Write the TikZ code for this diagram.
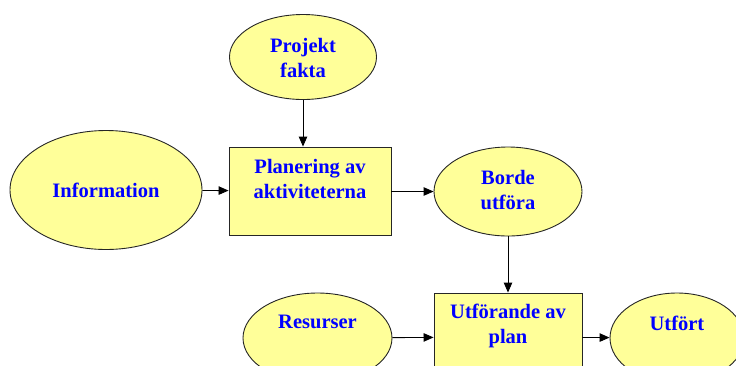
\documentclass[tikz,border=0pt]{standalone}
\usepackage{fontspec}
\setmainfont{Liberation Serif}[BoldFont={Liberation Serif Bold}]
\usetikzlibrary{arrows.meta,shapes.geometric}
\definecolor{fillyel}{RGB}{255,255,153}
\definecolor{txtblue}{RGB}{0,0,255}
\begin{document}
\begin{tikzpicture}[x=1pt,y=-1pt,
  ell/.style={ellipse,draw=black!85,line width=0.9pt,fill=fillyel,inner sep=0pt},
  boxnode/.style={rectangle,draw=black!85,line width=0.9pt,fill=fillyel,inner sep=0pt},
  lbl/.style={text=txtblue,font=\fontsize{20.5}{25}\selectfont\bfseries,align=center,inner sep=0pt},
  conn/.style={line width=0.9pt,-{Triangle[length=10pt,width=8.5pt]}}]
\useasboundingbox (0,0) rectangle (736,365);
\clip (0,0) rectangle (736,365);
% shapes
\node[ell,minimum width=147,minimum height=85] (proj) at (303,57) {};
\node[lbl] (projt) at (303,58) {Projekt\\fakta};
\node[ell,minimum width=192,minimum height=119] (info) at (106,190) {};
\node[lbl] (infot) at (106,190) {Information};
\node[boxnode,minimum width=162,minimum height=88] (plan) at (310,191) {};
\node[lbl] (plant) at (310,178.5) {Planering av\\aktiviteterna};
\node[ell,minimum width=148,minimum height=89] (borde) at (508,191.5) {};
\node[lbl] (bordet) at (508,190.5) {Borde\\utföra};
\node[boxnode,minimum width=148,minimum height=88] (utf) at (508,337) {};
\node[lbl] (utft) at (508,325.5) {Utförande av\\plan};
\node[ell,minimum width=149,minimum height=90] (res) at (317.5,338) {};
\node[lbl] (rest) at (317.5,322) {Resurser};
\node[ell,minimum width=134,minimum height=90] (done) at (677,338) {};
\node[lbl] (donet) at (677,323) {Utfört};
% connectors
\draw[conn] (proj) -- (proj |- plan.north);
\draw[conn] (info) -- (plan);
\draw[conn] (plan.east |- borde) -- (borde);
\draw[conn] (borde) -- (utf);
\draw[conn] (res) -- (utf);
\draw[conn] (utf) -- (done);
\end{tikzpicture}
\end{document}
